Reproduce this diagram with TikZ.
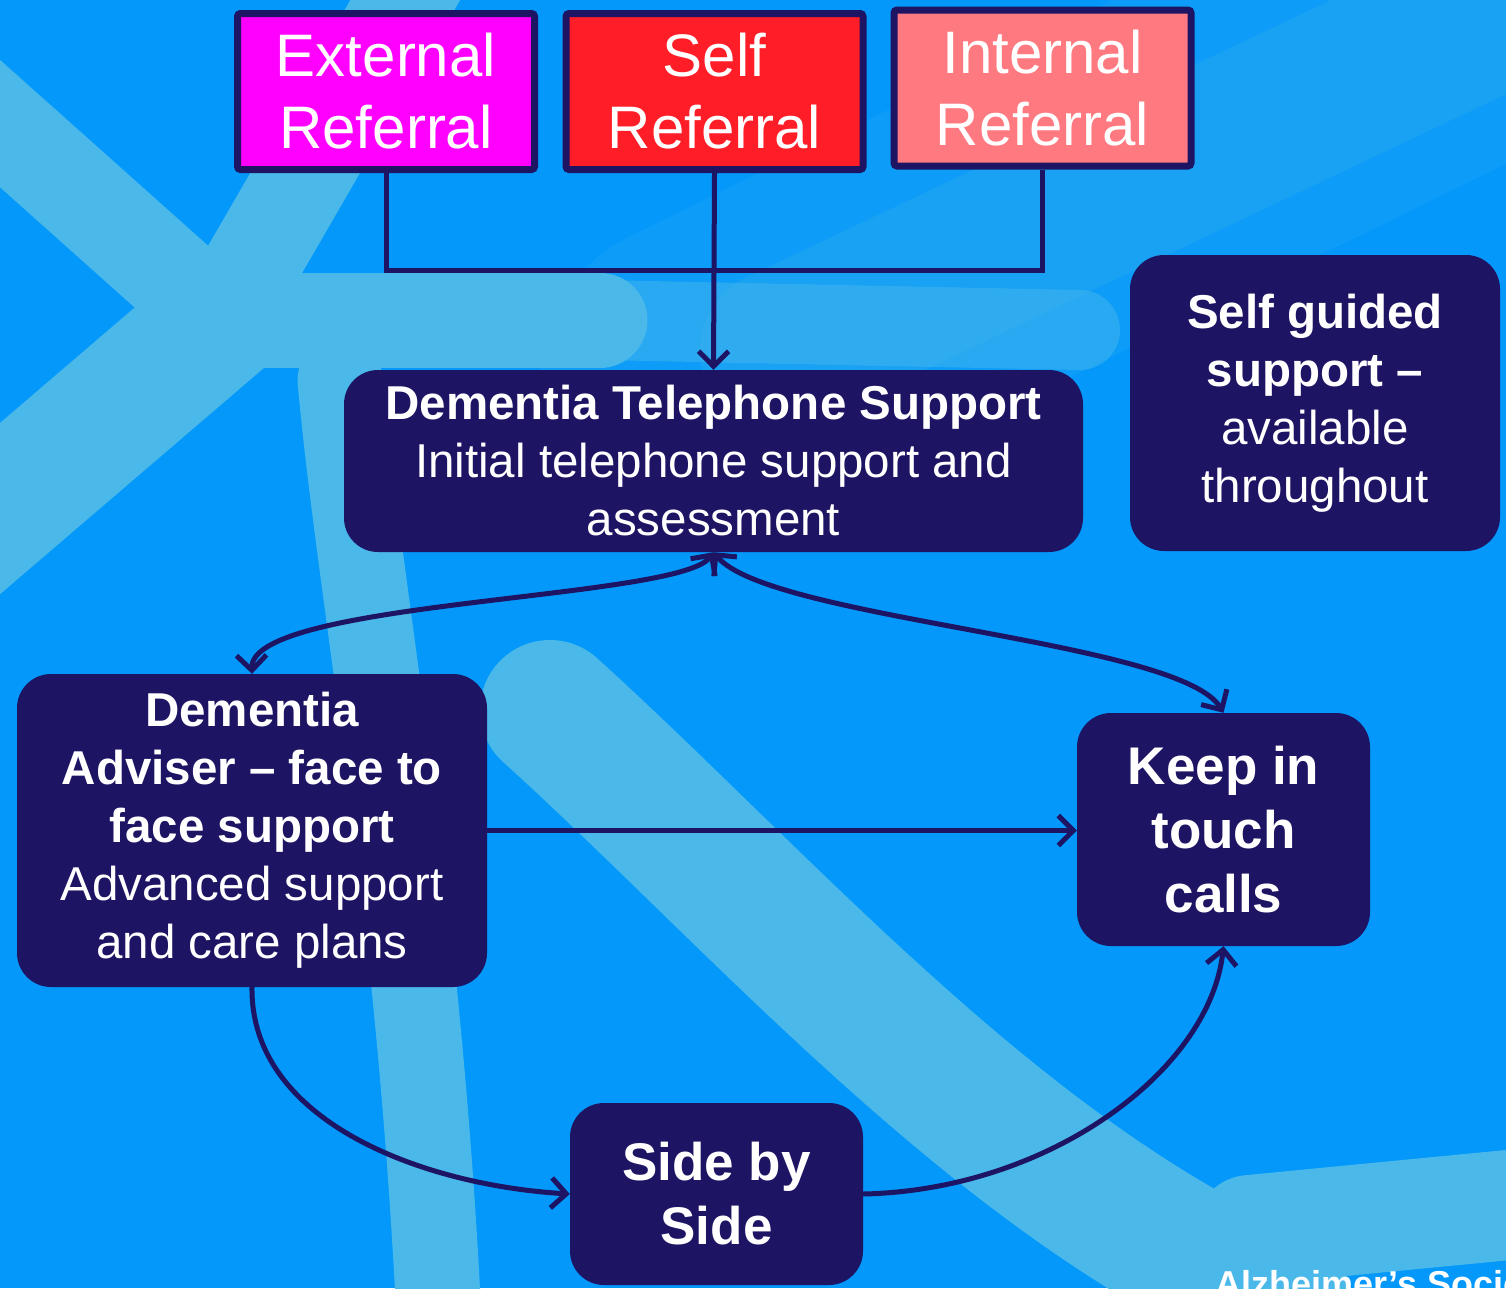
\documentclass[tikz,border=0pt]{standalone}
\usepackage{fontspec}
\setmainfont{Liberation Sans}
\usepackage{xcolor}
\usepackage{tikz}
\usetikzlibrary{arrows.meta,positioning}

\definecolor{navy}{RGB}{29,20,99}
\definecolor{bgblue}{RGB}{3,152,250}
\definecolor{bandblue}{RGB}{74,185,234}
\definecolor{extpink}{RGB}{255,0,255}
\definecolor{selfred}{RGB}{255,30,40}
\definecolor{intsalmon}{RGB}{255,122,128}

\tikzset{
  refbox/.style={draw=navy, line width=7pt, rounded corners=3pt, text=white, align=center,
    minimum width=297pt, minimum height=156pt, inner sep=0pt, font=\fontsize{60}{72}\selectfont},
  infobox/.style={fill=navy, rounded corners=34pt, text=white, align=center, inner sep=0pt,
    font=\fontsize{47.5}{58}\selectfont},
  bigbox/.style={infobox, font=\fontsize{53}{64}\selectfont\bfseries},
  link/.style={draw=navy, line width=5pt},
  flow/.style={draw=navy, line width=5pt, >={Straight Barb[length=15pt,width=30pt]}},
  band/.style={draw=bandblue, line width=95pt, line cap=round},
}

\begin{document}
\begin{tikzpicture}[x=1pt, y=-1pt]
    \useasboundingbox (0,0) rectangle (1506,1288);

    % Background with light bands
    \fill[bgblue] (0,0) rectangle (1506,1288);
    \begin{scope}
    \clip (0,0) rectangle (1506,1288);
    \draw[band, draw opacity=0.15, line width=320pt] (700,380) -- (1600,-60);
    \draw[band, draw opacity=0.2, line width=160pt] (780,350) -- (1560,-20);
    \draw[band, draw opacity=0.45, line width=80pt] (600,320) -- (1080,330);
    \draw[band] (-60,70) -- (220,320);
    \draw[band] (440,-60) -- (220,320);
    \draw[band, line width=130pt] (220,320) -- (-60,560);
    \draw[band] (220,320) -- (600,320);
    \draw[band, line width=85pt] (340,380) .. controls (360,600) and (420,900) .. (440,1340);
    \draw[band, line width=140pt] (550,710) .. controls (760,900) and (1000,1180) .. (1280,1300);
    \draw[band, line width=110pt] (1250,1230) -- (1560,1200);
    \end{scope}

    % Referral boxes
    \node[refbox, fill=extpink] (ext) at (386,91.5) {External\\Referral};
    \node[refbox, fill=selfred] (self) at (714.5,91.5) {Self\\Referral};
    \node[refbox, fill=intsalmon] (int) at (1042.5,88) {Internal\\Referral};

    % Service boxes
    \node[infobox, minimum width=739pt, minimum height=182pt] (tel) at (713.5,461)
        {{\bfseries Dementia Telephone Support}\\Initial telephone support and\\assessment};
    \node[infobox, minimum width=370pt, minimum height=296pt] (guided) at (1315,403)
        {{\bfseries Self guided}\\{\bfseries support –}\\available\\throughout};
    \node[infobox, minimum width=470pt, minimum height=313pt] (adv) at (252,830.5)
        {{\bfseries Dementia}\\{\bfseries Adviser – face to}\\{\bfseries face support}\\Advanced support\\and care plans};
    \node[bigbox, minimum width=293pt, minimum height=233pt] (keep) at (1223.5,829.5)
        {Keep in\\touch\\calls};
    \node[bigbox, minimum width=293pt, minimum height=182pt] (side) at (716.5,1194)
        {Side by\\Side};

    % Referral links
    \coordinate (join) at (714.5,270);
    \draw[link] (ext.south) |- (join) -| (int.south);
    \draw[flow, ->] (self.south) -- (tel.north);

    % Flow between services
    \draw[flow, <->] (tel.south) .. controls (680,600) and (250,600) .. (adv.north);
    \draw[flow, <->] (tel.south) .. controls (770,620) and (1180,640) .. (keep.north);
    \draw[flow, ->] (adv.east) -- (adv.east -| keep.west);
    \draw[flow, ->] (adv.south) .. controls (250,1120) and (420,1185) .. (side.west);
    \draw[flow, ->] (side.east) .. controls (1050,1190) and (1210,1070) .. (keep.south);

    % Footer
    \begin{scope}
    \clip (0,0) rectangle (1506,1288);
    \node[anchor=base west, inner sep=0pt, text=white, font=\fontsize{36}{40}\selectfont\bfseries]
        (brand) at (1215,1296) {Alzheimer’s Society};
    \end{scope}
\end{tikzpicture}
\end{document}
